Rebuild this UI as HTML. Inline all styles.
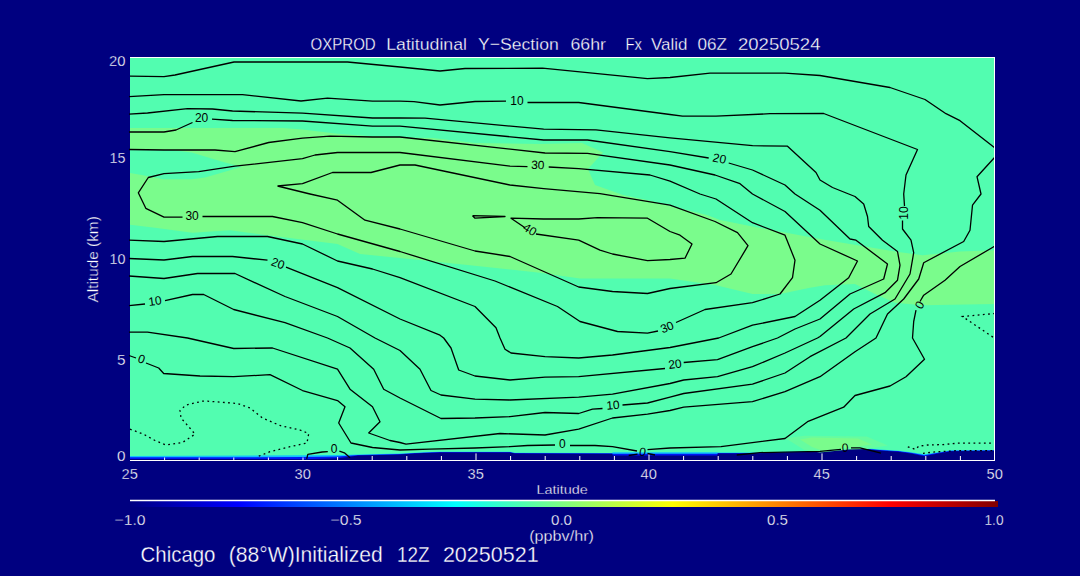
<!DOCTYPE html>
<html><head><meta charset="utf-8"><title>OXPROD Latitudinal Y-Section</title>
<style>html,body{margin:0;padding:0;background:#000080;overflow:hidden}svg{display:block}</style></head>
<body>
<svg width="1080" height="576" viewBox="0 0 1080 576" font-family="Liberation Sans, sans-serif">
<rect width="1080" height="576" fill="#000080"/>
<defs><clipPath id="cp"><rect x="130" y="57" width="864.5" height="403.5"/></clipPath></defs>
<g clip-path="url(#cp)">
<polygon points="130.0,57.0 995.0,57.0 995.0,450.8 951.0,451.2 938.0,453.4 924.4,456.3 911.0,453.4 898.0,451.7 880.0,450.5 855.0,448.3 835.0,450.1 820.0,451.7 760.0,453.4 718.0,453.4 717.0,455.5 613.0,455.5 612.0,453.8 515.0,453.6 510.0,452.6 440.0,452.5 424.0,453.1 406.0,454.0 400.0,454.5 358.0,455.5 348.0,457.0 337.0,458.3 303.0,459.2 130.0,458.9" fill="#0018f4"/>
<polygon points="130.0,57.0 995.0,57.0 995.0,450.3 951.0,450.7 938.0,452.7 924.4,455.2 911.0,452.7 898.0,451.1 880.0,450.0 855.0,447.8 835.0,449.6 820.0,451.2 760.0,452.9 718.0,452.9 717.0,453.7 613.0,453.7 612.0,453.3 515.0,453.1 510.0,452.1 440.0,452.1 424.0,452.6 406.0,453.6 400.0,454.0 358.0,454.9 348.0,455.7 337.0,456.5 303.0,457.1 130.0,457.2" fill="#10c0ff"/>
<polygon points="130.0,57.0 995.0,57.0 995.0,449.9 951.0,450.3 938.0,452.2 924.4,454.3 911.0,452.2 898.0,450.7 880.0,449.6 855.0,447.4 835.0,449.2 820.0,450.8 760.0,452.5 718.0,452.5 717.0,452.2 613.0,452.2 612.0,452.9 515.0,452.7 510.0,451.7 440.0,451.7 424.0,452.2 406.0,453.2 400.0,453.6 358.0,454.4 348.0,454.7 337.0,455.0 303.0,455.3 130.0,455.9" fill="#52fdb0"/>
<polygon points="130.0,128.0 192.5,128.0 283.0,128.0 302.5,129.5 337.5,133.7 372.5,136.2 400.0,137.5 432.5,138.0 475.0,143.0 540.0,144.0 582.0,143.0 603.0,152.5 588.0,169.0 595.0,185.0 623.0,195.0 647.0,200.0 673.0,206.7 707.0,215.0 720.0,220.0 752.5,226.5 820.0,239.0 895.0,251.5 922.5,255.2 960.0,251.5 995.0,250.2 995.0,304.0 922.5,305.2 895.0,302.7 875.0,294.0 855.0,284.0 825.0,285.2 810.0,287.7 780.0,294.0 752.5,294.0 716.0,285.2 670.0,278.5 580.0,278.5 540.0,272.7 470.0,265.2 400.0,258.0 360.0,254.0 337.5,244.0 267.5,235.2 230.0,230.2 192.5,232.7 155.0,227.7 130.0,224.7 130.0,173.0 141.7,175.0 163.3,179.2 191.7,179.2 205.0,177.5 225.0,171.7 241.7,166.7 225.0,162.5 208.3,157.5 191.7,152.5 171.7,150.0 130.0,150.0" fill="#7afc8c"/>
<polygon points="785.5,438.3 804.4,435.7 866.7,436.5 888.0,445.4 866.7,449.0 848.9,449.5 820.0,452.5 804.4,450.0" fill="#66fca0"/>
<polygon points="800.0,439.5 812.0,437.5 858.0,438.5 872.0,444.5 850.0,447.5 822.0,450.5 812.0,447.0" fill="#7afc8c"/>
</g>
<defs><clipPath id="tk"><polygon points="130.0,457.6 303.0,457.5 337.0,456.9 348.0,456.1 358.0,455.3 400.0,454.4 406.0,454.0 424.0,453.0 440.0,452.5 510.0,452.5 515.0,453.5 612.0,453.7 613.0,454.1 717.0,454.1 718.0,453.3 760.0,453.3 820.0,451.6 835.0,450.0 855.0,448.2 880.0,450.4 898.0,451.5 911.0,453.1 924.4,455.6 938.0,453.1 951.0,451.1 995.0,450.7 995.0,462.0 130.0,462.0"/></clipPath></defs>
<g clip-path="url(#tk)" stroke="#fff" stroke-width="1">
<line x1="164.6" y1="460" x2="164.6" y2="456.0"/>
<line x1="199.2" y1="460" x2="199.2" y2="456.0"/>
<line x1="233.8" y1="460" x2="233.8" y2="456.0"/>
<line x1="268.4" y1="460" x2="268.4" y2="456.0"/>
<line x1="303.0" y1="460" x2="303.0" y2="453.4"/>
<line x1="337.6" y1="460" x2="337.6" y2="456.0"/>
<line x1="372.2" y1="460" x2="372.2" y2="456.0"/>
<line x1="406.8" y1="460" x2="406.8" y2="456.0"/>
<line x1="441.4" y1="460" x2="441.4" y2="456.0"/>
<line x1="476.0" y1="460" x2="476.0" y2="453.4"/>
<line x1="510.6" y1="460" x2="510.6" y2="456.0"/>
<line x1="545.2" y1="460" x2="545.2" y2="456.0"/>
<line x1="579.8" y1="460" x2="579.8" y2="456.0"/>
<line x1="614.4" y1="460" x2="614.4" y2="456.0"/>
<line x1="649.0" y1="460" x2="649.0" y2="453.4"/>
<line x1="683.6" y1="460" x2="683.6" y2="456.0"/>
<line x1="718.2" y1="460" x2="718.2" y2="456.0"/>
<line x1="752.8" y1="460" x2="752.8" y2="456.0"/>
<line x1="787.4" y1="460" x2="787.4" y2="456.0"/>
<line x1="822.0" y1="460" x2="822.0" y2="453.4"/>
<line x1="856.6" y1="460" x2="856.6" y2="456.0"/>
<line x1="891.2" y1="460" x2="891.2" y2="456.0"/>
<line x1="925.8" y1="460" x2="925.8" y2="456.0"/>
<line x1="960.4" y1="460" x2="960.4" y2="456.0"/>
</g>
<g fill="none" stroke="#000" stroke-width="1.3" stroke-linejoin="round">
<polyline points="130.0,76.2 164.0,76.7 175.0,75.0 234.0,62.0 347.5,62.0 400.0,67.0 440.0,71.0 465.0,68.5 542.5,68.2 647.5,78.7 670.0,77.5 710.0,73.2 785.0,73.2 820.0,75.5 890.0,87.5 925.0,99.5 946.0,113.7 960.0,120.7 995.0,148.0"/>
<polyline points="995.0,157.0 977.0,176.7 981.0,194.0 972.5,205.2 970.0,230.2 963.7,241.5 923.7,262.7 918.7,279.0 903.7,299.0 887.5,314.0 876.0,338.0 855.0,351.7 820.0,376.7 785.0,391.7 752.5,401.7 683.7,407.2 670.0,410.5 647.5,414.2 612.5,418.0 578.7,429.2 545.0,435.0 500.0,433.5 406.0,444.2 400.0,442.5 390.0,440.5 368.7,433.0 380.0,421.7 372.5,406.7 350.0,389.2 337.5,369.2 272.5,348.0 233.7,348.5 187.5,338.0 147.5,332.2 129.0,332.2"/>
<polyline points="129.0,96.7 164.0,94.7 242.5,94.7 301.0,101.0 327.5,98.2 372.5,101.2 400.0,101.2 414.0,101.7 440.0,105.0 475.0,101.5 506.0,101.2"/>
<polyline points="527.5,102.5 578.7,102.5 670.0,114.5 682.5,116.2 716.0,116.2 770.0,113.7 823.7,113.5 917.5,149.5 906.0,175.0 903.7,194.0 904.5,206.0"/>
<polyline points="902.5,220.5 902.5,229.0 911.0,240.2 913.7,252.7 910.0,274.0 895.0,299.0 870.0,314.0 846.0,338.0 810.0,356.7 785.0,373.0 752.5,384.2 683.7,393.5 670.0,397.2 647.5,403.0 622.5,405.0"/>
<polyline points="602.5,408.5 592.5,409.2 578.7,413.5 545.0,412.5 510.0,416.7 475.0,418.0 441.0,418.5 400.0,398.0 383.7,389.2 373.7,369.2 350.0,348.0 327.5,338.0 285.0,322.7 233.7,309.5 203.7,294.5 192.5,294.5 165.0,300.7"/>
<polyline points="145.0,304.0 129.0,305.7"/>
<polyline points="129.0,114.2 147.5,113.0 187.5,108.7 212.5,109.0 232.5,111.0 302.5,113.2 372.5,118.0 400.0,118.0 425.0,118.2 543.7,129.2 596.0,129.8 670.0,137.8 752.5,145.7 787.5,146.2 816.0,172.5 820.0,180.0 832.5,187.5 848.7,194.0 855.0,196.5 863.7,204.0 867.5,216.5 868.7,226.5 882.5,240.2 897.5,251.5 900.0,265.2 897.5,280.2 885.0,292.7 853.7,309.0 820.0,336.5 817.5,338.0 785.0,353.0 752.5,366.7 717.5,376.7 683.7,380.0 670.0,383.5 612.5,394.2 578.7,397.2 510.0,400.0 475.0,399.2 441.0,395.0 431.0,390.5 420.0,369.2 400.0,350.5 375.0,338.0 337.5,316.5 285.0,296.5 235.0,273.5 197.5,273.5 164.0,278.5 129.0,276.0"/>
<polyline points="129.0,132.0 164.0,132.0 176.0,130.0 192.5,122.5"/>
<polyline points="212.0,119.2 232.5,120.5 302.5,121.0 372.5,126.2 400.0,126.2 543.7,140.0 587.5,140.0 670.0,151.7 708.7,158.0"/>
<polyline points="728.7,163.0 752.5,170.0 785.0,185.0 795.0,194.0 820.0,210.2 850.0,239.0 856.0,240.2 887.5,264.0 883.7,279.0 850.0,294.0 820.0,319.0 795.0,329.0 777.5,338.0 752.5,346.7 717.5,359.7 683.7,362.5"/>
<polyline points="665.0,368.5 578.7,376.7 545.0,377.2 510.0,380.0 475.0,376.0 458.7,370.0 451.0,348.0 443.7,338.0 440.0,335.2 400.0,319.0 337.5,287.7 286.0,267.2"/>
<polyline points="267.5,260.2 232.5,256.5 192.5,256.5 164.0,260.0 129.0,258.5"/>
<polyline points="129.0,149.5 164.0,150.0 215.0,150.0 235.0,151.7 268.7,142.5 302.5,138.2 330.0,136.2 372.5,137.0 400.0,137.0 545.0,153.0 587.5,153.3 670.0,165.0 715.0,175.0 740.0,183.7 752.5,194.0 785.0,211.5 820.0,244.0 857.5,261.0 848.7,277.7 820.0,300.2 795.0,316.5 752.5,325.2 718.7,338.0 670.0,347.5 612.5,355.0 578.7,358.0 545.0,356.7 511.0,353.0 505.0,349.2 500.0,338.0 496.0,327.7 475.0,306.5 400.0,277.7 372.5,269.0 337.5,261.0 302.5,244.0 267.5,236.5 217.5,236.5 164.0,241.5 129.0,240.2"/>
<polyline points="202.5,216.5 272.5,216.5 302.5,222.7 337.5,234.0 400.0,251.5 495.0,281.0 557.5,306.5 580.0,321.5 617.5,331.5 647.5,333.2 658.0,331.0"/>
<polyline points="676.0,322.5 705.0,309.5 752.5,302.7 780.0,294.0 792.5,277.7 795.0,260.2 785.0,235.2 752.5,222.7 716.0,199.0 700.0,194.0 670.0,181.2 650.0,175.0 578.7,168.7 548.7,167.0"/>
<polyline points="527.5,166.7 510.0,166.2 400.0,152.5 337.5,152.5 315.0,155.0 302.5,158.7 235.0,166.2 198.7,171.7 164.0,173.7 148.3,177.5 138.3,192.8 145.8,208.3 164.0,217.2 182.5,217.2"/>
<polyline points="277.5,186.0 302.5,183.7 332.5,172.5 371.0,172.5 400.0,165.0 415.0,165.0 510.0,185.0 543.7,188.7 600.0,193.7 670.0,205.2 715.0,221.5 737.5,232.7 748.0,245.7 731.0,274.0 716.0,282.7 670.0,288.5 647.5,293.5 612.5,291.5 578.7,287.0 510.0,256.5 475.0,251.0 400.0,229.0 365.0,220.2 337.5,200.2 310.0,194.0 277.5,186.0"/>
<polyline points="472.5,215.7 505.0,216.5 475.0,218.2 472.5,215.7"/>
<polyline points="525.0,227.7 511.0,218.2 543.7,219.0 578.7,219.0 597.5,217.7 647.5,218.2 670.0,231.5 680.0,235.2 692.0,244.0 685.0,258.2 670.0,259.5 647.5,260.7 612.5,254.0 600.0,250.2 578.7,240.2 536.0,234.0"/>
<polyline points="129.0,355.5 136.0,358.0"/>
<polyline points="146.0,363.0 158.7,368.0 163.7,373.5 200.0,376.0 233.7,376.7 270.0,374.7 302.5,390.5 337.5,400.5 345.0,406.7 338.7,423.0 351.0,443.0 372.5,447.5 400.0,450.0 430.0,449.2 475.0,448.0 510.0,446.7 527.5,445.5 555.0,445.0"/>
<polyline points="570.0,445.5 595.0,445.5 612.5,446.7 637.0,451.0"/>
<polyline points="647.5,449.7 670.0,448.0 721.0,446.7 785.0,438.5 807.5,421.7 843.7,407.2 855.0,395.5 890.0,386.0 906.0,376.7 924.5,359.2 912.5,338.0 913.7,321.5 916.0,310.2"/>
<polyline points="920.0,301.5 923.7,295.2 945.0,280.2 960.0,266.5 995.0,246.0"/>
<polyline points="306.7,458.9 307.8,454.4 322.2,452.0 327.8,451.7"/>
<polyline points="339.4,451.1 344.4,452.8 350.0,457.8"/>
<polyline points="628.7,455.5 637.5,454.2"/>
<polyline points="647.5,453.5 655.0,455.0"/>
<polyline points="736.7,455.0 760.0,452.6 820.0,451.4 833.0,450.1 841.0,449.4"/>
<polyline points="851.0,447.9 860.0,447.9 881.0,453.2"/>
</g>
<g fill="none" stroke="#000" stroke-width="1.3" stroke-dasharray="1.8 3.4">
<polyline points="130.0,429.2 143.7,434.2 155.0,440.5 166.0,445.0 182.5,442.5 195.0,434.2 188.7,426.7 181.0,418.0 180.0,410.5 186.0,405.0 202.5,401.2 207.5,401.2 225.0,402.5 237.5,403.5 250.0,408.0 262.5,418.0 280.0,425.5 300.0,430.0 308.7,433.5 307.0,443.0 290.0,446.7 270.0,451.7 257.5,456.7"/>
<polyline points="995.0,313.5 962.5,316.5 995.0,338.5"/>
<polyline points="907.8,446.8 915.5,449.4 918.9,446.1 927.8,445.0 943.3,444.6 957.8,443.2 995.0,443.2"/>
<polyline points="923.0,453.4 933.0,452.1 947.8,451.2 957.8,450.6 995.0,450.6"/>
</g>
<g fill="#000" font-size="12" text-anchor="middle">
<text transform="translate(517,100.5) rotate(0)" y="4.2">10</text>
<text transform="translate(201.6,118.1) rotate(0)" y="4.2">20</text>
<text transform="translate(537.8,164.8) rotate(3)" y="4.2">30</text>
<text transform="translate(719.5,158.5) rotate(12)" y="4.2">20</text>
<text transform="translate(903.5,213) rotate(-90)" y="4.2">10</text>
<text transform="translate(919.5,305) rotate(-60)" y="4.2">0</text>
<text transform="translate(192.1,215.6) rotate(0)" y="4.2">30</text>
<text transform="translate(530,229.5) rotate(32)" y="4.2">40</text>
<text transform="translate(278,263.4) rotate(20)" y="4.2">20</text>
<text transform="translate(155,300.9) rotate(-8)" y="4.2">10</text>
<text transform="translate(141.5,359) rotate(20)" y="4.2">0</text>
<text transform="translate(667,327) rotate(-22)" y="4.2">30</text>
<text transform="translate(675,364) rotate(-8)" y="4.2">20</text>
<text transform="translate(613,405) rotate(-5)" y="4.2">10</text>
<text transform="translate(562.4,443.6) rotate(0)" y="4.2">0</text>
<text transform="translate(642.7,451.7) rotate(8)" y="4.2">0</text>
<text transform="translate(334,448.9) rotate(0)" y="4.2">0</text>
<text transform="translate(845,447.6) rotate(-3)" y="4.2">0</text>
</g>
<path d="M130 57.5H995" stroke="#fff" stroke-width="1" fill="none"/>
<path d="M994.5 57V461" stroke="#fff" stroke-width="1" fill="none"/>
<path d="M130 460.5H995" stroke="#fff" stroke-width="1" fill="none"/>
<defs><linearGradient id="jet" x1="0" x2="1" y1="0" y2="0"><stop offset="0" stop-color="#000080"/><stop offset="0.125" stop-color="#0000ff"/><stop offset="0.375" stop-color="#00ffff"/><stop offset="0.5" stop-color="#80ff80"/><stop offset="0.625" stop-color="#ffff00"/><stop offset="0.875" stop-color="#ff0000"/><stop offset="1" stop-color="#800000"/></linearGradient></defs>
<rect x="130" y="501" width="868" height="6" fill="url(#jet)"/>
<path d="M130 500.5H995" stroke="#fff" stroke-width="1.4" fill="none"/>
<g fill="#fff" stroke="#000080" stroke-width="0.3">
<text x="310.5" y="49.8" font-size="16.8" textLength="65.2" lengthAdjust="spacingAndGlyphs" >OXPROD</text>
<text x="386.2" y="49.8" font-size="16.8" textLength="80.8" lengthAdjust="spacingAndGlyphs" >Latitudinal</text>
<text x="478" y="49.8" font-size="16.8" textLength="80.7" lengthAdjust="spacingAndGlyphs" >Y−Section</text>
<text x="570.5" y="49.8" font-size="16.8" textLength="35.5" lengthAdjust="spacingAndGlyphs" >66hr</text>
<text x="625.5" y="49.8" font-size="16.8" textLength="16.5" lengthAdjust="spacingAndGlyphs" >Fx</text>
<text x="651" y="49.8" font-size="16.8" textLength="36.5" lengthAdjust="spacingAndGlyphs" >Valid</text>
<text x="697.5" y="49.8" font-size="16.8" textLength="29.5" lengthAdjust="spacingAndGlyphs" >06Z</text>
<text x="738" y="49.8" font-size="16.8" textLength="82.5" lengthAdjust="spacingAndGlyphs" >20250524</text>
<text x="109.0" y="66" font-size="15.0" textLength="16.5" lengthAdjust="spacingAndGlyphs" >20</text>
<text x="109.6" y="162.9" font-size="15.0" textLength="15.9" lengthAdjust="spacingAndGlyphs" >15</text>
<text x="109.6" y="263.6" font-size="15.0" textLength="15.9" lengthAdjust="spacingAndGlyphs" >10</text>
<text x="117.0" y="364.8" font-size="15.0" textLength="8.5" lengthAdjust="spacingAndGlyphs" >5</text>
<text x="117.0" y="461.1" font-size="15.0" textLength="8.5" lengthAdjust="spacingAndGlyphs" >0</text>
<text x="121.6" y="479.1" font-size="15.0" textLength="16.3" lengthAdjust="spacingAndGlyphs" >25</text>
<text x="294.6" y="479.1" font-size="15.0" textLength="16.3" lengthAdjust="spacingAndGlyphs" >30</text>
<text x="467.6" y="479.1" font-size="15.0" textLength="16.3" lengthAdjust="spacingAndGlyphs" >35</text>
<text x="640.6" y="479.1" font-size="15.0" textLength="16.3" lengthAdjust="spacingAndGlyphs" >40</text>
<text x="813.6" y="479.1" font-size="15.0" textLength="16.3" lengthAdjust="spacingAndGlyphs" >45</text>
<text x="986.6" y="479.1" font-size="15.0" textLength="16.3" lengthAdjust="spacingAndGlyphs" >50</text>
<text x="536.5" y="494.1" font-size="13.6" textLength="51.3" lengthAdjust="spacingAndGlyphs" >Latitude</text>
<text x="114.5" y="525.2" font-size="15.0" textLength="31.0" lengthAdjust="spacingAndGlyphs" >−1.0</text>
<text x="330.5" y="525.2" font-size="15.0" textLength="31.0" lengthAdjust="spacingAndGlyphs" >−0.5</text>
<text x="551" y="525.2" font-size="15.0" textLength="21.0" lengthAdjust="spacingAndGlyphs" >0.0</text>
<text x="767" y="525.2" font-size="15.0" textLength="21.0" lengthAdjust="spacingAndGlyphs" >0.5</text>
<text x="984.5" y="525.2" font-size="15.0" textLength="19.0" lengthAdjust="spacingAndGlyphs" >1.0</text>
<text x="529.2" y="540.6" font-size="15" textLength="64.8" lengthAdjust="spacingAndGlyphs" >(ppbv/hr)</text>
<text x="140.5" y="562.2" font-size="21.6" textLength="75.0" lengthAdjust="spacingAndGlyphs" >Chicago</text>
<text x="228.7" y="562.2" font-size="21.6" textLength="154.1" lengthAdjust="spacingAndGlyphs" >(88°W)Initialized</text>
<text x="397" y="562.2" font-size="21.6" textLength="32.6" lengthAdjust="spacingAndGlyphs" >12Z</text>
<text x="442.9" y="562.2" font-size="21.6" textLength="95.7" lengthAdjust="spacingAndGlyphs" >20250521</text>
</g>
<text transform="translate(97.7,302.5) rotate(-90)" font-size="14.8" fill="#fff" stroke="#000080" stroke-width="0.3" textLength="86.3" lengthAdjust="spacingAndGlyphs">Altitude (km)</text>
</svg>
</body></html>
